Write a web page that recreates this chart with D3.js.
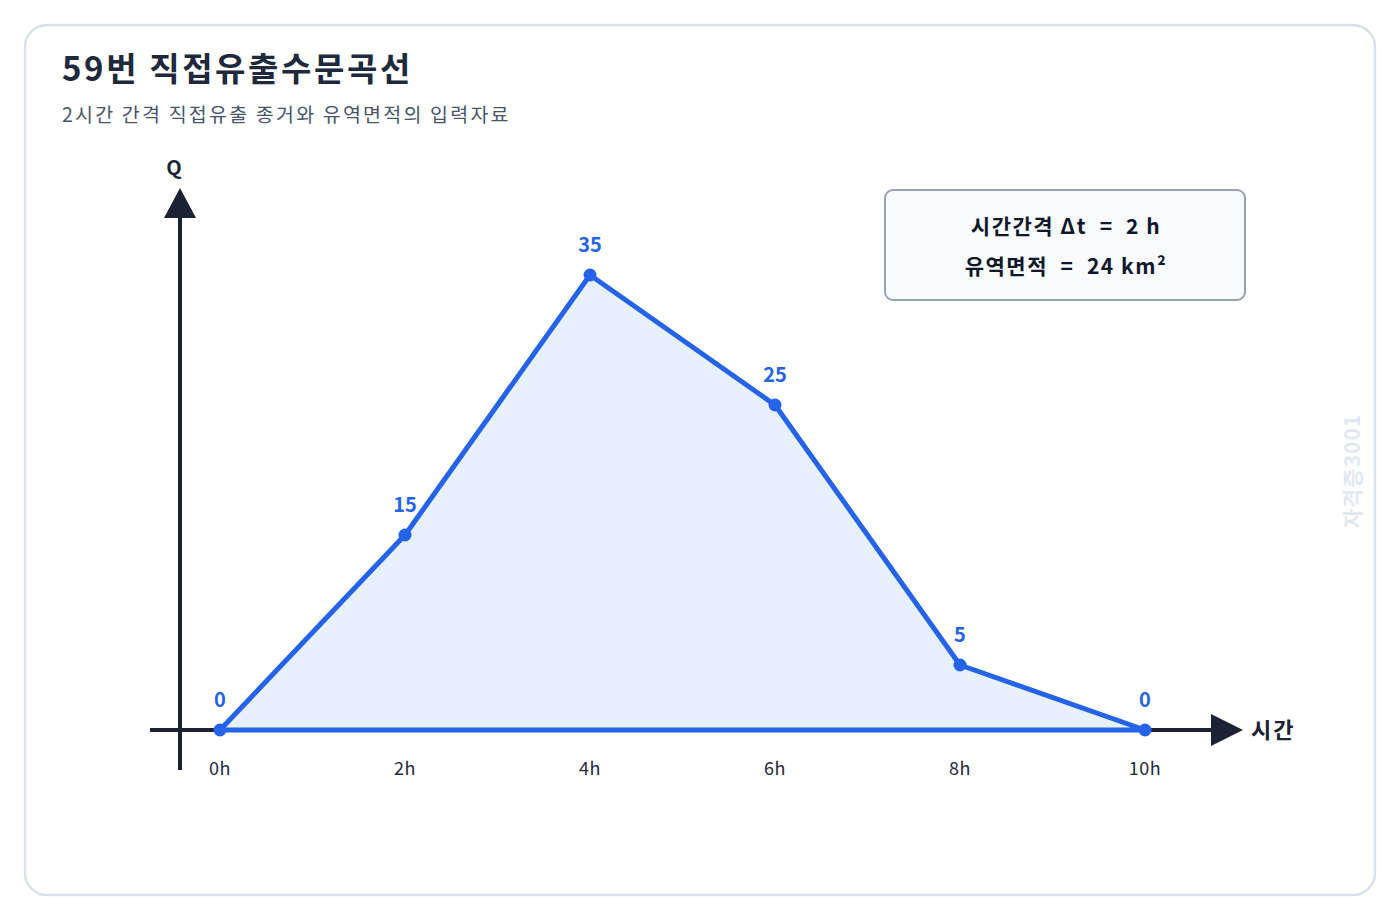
<!DOCTYPE html>
<html>
<head>
<meta charset="utf-8">
<script src="https://cdn.jsdelivr.net/npm/d3@7"></script>
<style>
  body { margin: 0; background: #fff; font-family: "Noto Sans CJK KR", "Noto Sans", sans-serif; }
</style>
</head>
<body>
<div id="chart"></div>
<script>
// hydrograph data
var hours = [0, 2, 4, 6, 8, 10];
var flows = [0, 15, 35, 25, 5, 0];
var tickLabels = ["0h", "2h", "4h", "6h", "8h", "10h"];
var infoLines = ["시간간격 Δt  =  2 h", "유역면적  =  24 km²"];

var W = 1400, H = 920;
var svg = d3.select("#chart").append("svg")
    .attr("width", W)
    .attr("height", H);

// card
svg.append("rect")
    .attr("x", 25).attr("y", 25)
    .attr("width", 1350).attr("height", 870)
    .attr("rx", 22)
    .attr("fill", "#fff")
    .attr("stroke", "#d9e2ec")
    .attr("stroke-width", 2.5);

svg.append("text")
    .attr("x", 62).attr("y", 81)
    .attr("font-size", 33).attr("font-weight", 700)
    .attr("letter-spacing", 2.6)
    .attr("fill", "#1e293b")
    .text("59번 직접유출수문곡선");

svg.append("text")
    .attr("x", 62).attr("y", 122)
    .attr("font-size", 19.5)
    .attr("letter-spacing", 2.2)
    .attr("fill", "#475569")
    .text("2시간 간격 직접유출 종거와 유역면적의 입력자료");

var xScale = d3.scaleLinear()
    .domain([0, 10])
    .range([220, 1145]);

var yScale = d3.scaleLinear()
    .domain([0, 35])
    .range([730, 275]);

var axisColor = "#1a2233";

// axes
svg.append("line")
    .attr("x1", 180).attr("y1", 770)
    .attr("x2", 180).attr("y2", 212)
    .attr("stroke", axisColor).attr("stroke-width", 4);
svg.append("path")
    .attr("d", "M180,188 L196,218 L164,218 Z")
    .attr("fill", axisColor);

svg.append("line")
    .attr("x1", 150).attr("y1", yScale(0))
    .attr("x2", 1218).attr("y2", yScale(0))
    .attr("stroke", axisColor).attr("stroke-width", 4);
svg.append("path")
    .attr("d", "M1243,730 L1211,714 L1211,746 Z")
    .attr("fill", axisColor);

svg.append("text")
    .attr("x", 174).attr("y", 175)
    .attr("text-anchor", "middle")
    .attr("font-size", 20).attr("font-weight", 700)
    .attr("fill", axisColor)
    .text("Q");

svg.append("text")
    .attr("x", 1251).attr("y", 738)
    .attr("font-size", 22).attr("font-weight", 700)
    .attr("letter-spacing", 2)
    .attr("fill", axisColor)
    .text("시간");

// tick labels
svg.append("g")
    .selectAll("text")
    .data(hours)
    .enter()
    .append("text")
    .attr("x", d => xScale(d))
    .attr("y", 775)
    .attr("text-anchor", "middle")
    .attr("font-size", 18)
    .attr("letter-spacing", 0.5)
    .attr("fill", "#1e293b")
    .text((d, i) => tickLabels[i]);

// hydrograph
var pts = hours.map((h, i) => [xScale(h), yScale(flows[i])]);
var line = d3.line();

svg.append("path")
    .datum(pts)
    .attr("d", d => line(d) + "Z")
    .attr("fill", "#e7f0fd")
    .attr("stroke", "#2563eb")
    .attr("stroke-width", 5)
    .attr("stroke-linejoin", "round");

svg.append("g")
    .selectAll("circle")
    .data(hours)
    .enter()
    .append("circle")
    .attr("cx", d => xScale(d))
    .attr("cy", (d, i) => yScale(flows[i]))
    .attr("r", 6.5)
    .attr("fill", "#2563eb");

svg.append("g")
    .selectAll("text")
    .data(hours)
    .enter()
    .append("text")
    .attr("x", d => xScale(d))
    .attr("y", (d, i) => yScale(flows[i]) - 23)
    .attr("text-anchor", "middle")
    .attr("font-size", 20).attr("font-weight", 700)
    .attr("fill", "#2563eb")
    .text((d, i) => flows[i]);

// info box
svg.append("rect")
    .attr("x", 885).attr("y", 190)
    .attr("width", 360).attr("height", 110)
    .attr("rx", 8)
    .attr("fill", "#f8fafc")
    .attr("stroke", "#94a3b8")
    .attr("stroke-width", 2);

svg.append("g")
    .selectAll("text")
    .data(infoLines)
    .enter()
    .append("text")
    .attr("x", 1066)
    .attr("y", (d, i) => 234 + i * 40)
    .attr("text-anchor", "middle")
    .attr("font-size", 21).attr("font-weight", 700)
    .attr("letter-spacing", 1.5)
    .attr("fill", "#0f172a")
    .style("white-space", "pre")
    .text(d => d);

// watermark
svg.append("text")
    .attr("transform", "translate(1360,471) rotate(-90)")
    .attr("text-anchor", "middle")
    .attr("font-size", 21).attr("font-weight", 700)
    .attr("letter-spacing", 1)
    .attr("fill", "#e2e8f0")
    .text("자격증3001");
</script>
</body>
</html>
